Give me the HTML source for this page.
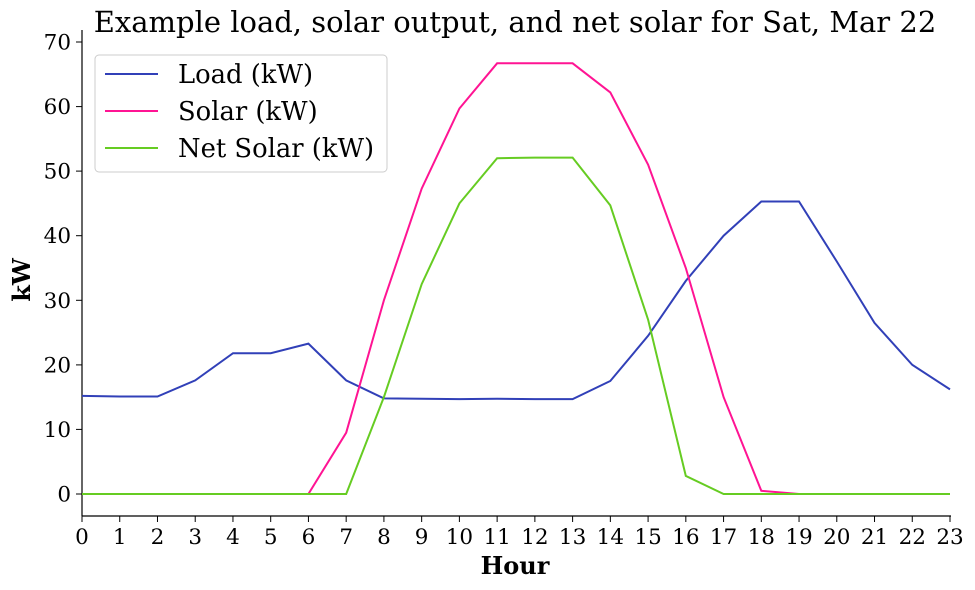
<!DOCTYPE html>
<html><head><meta charset="utf-8"><style>
html,body{margin:0;padding:0;background:#fff;}
svg{display:block;font-family:"DejaVu Serif","Liberation Serif",serif;}
</style></head><body>
<svg width="975" height="590" viewBox="0 0 975 590" xmlns="http://www.w3.org/2000/svg">
<rect width="975" height="590" fill="#fff"/>
<text x="515" y="32" font-size="29" text-anchor="middle">Example load, solar output, and net solar for Sat, Mar 22</text>
<g stroke="#000" stroke-width="1.2">
<line x1="82" y1="30" x2="82" y2="516"/>
<line x1="82" y1="516" x2="951" y2="516"/>
</g>
<g id="yt" font-size="21.5" text-anchor="end">
<line x1="76" y1="494" x2="82" y2="494" stroke="#000"/><text x="71" y="501.5">0</text>
<line x1="76" y1="429.4" x2="82" y2="429.4" stroke="#000"/><text x="71" y="436.9">10</text>
<line x1="76" y1="364.9" x2="82" y2="364.9" stroke="#000"/><text x="71" y="372.4">20</text>
<line x1="76" y1="300.3" x2="82" y2="300.3" stroke="#000"/><text x="71" y="307.8">30</text>
<line x1="76" y1="235.7" x2="82" y2="235.7" stroke="#000"/><text x="71" y="243.2">40</text>
<line x1="76" y1="171.1" x2="82" y2="171.1" stroke="#000"/><text x="71" y="178.6">50</text>
<line x1="76" y1="106.6" x2="82" y2="106.6" stroke="#000"/><text x="71" y="114.1">60</text>
<line x1="76" y1="42" x2="82" y2="42" stroke="#000"/><text x="71" y="49.5">70</text>
</g>
<g id="xt" font-size="21.5" text-anchor="middle"></g>
<text x="515" y="574" font-size="24" font-weight="bold" text-anchor="middle">Hour</text>
<text transform="translate(30,280) rotate(-90)" font-size="24" font-weight="bold" text-anchor="middle">kW</text>
<polyline id="load" fill="none" stroke="#3140b8" stroke-width="2"/>
<polyline id="solar" fill="none" stroke="#ff1493" stroke-width="2"/>
<polyline id="net" fill="none" stroke="#66cc22" stroke-width="2"/>
<rect x="95" y="55" width="292" height="117" rx="4" fill="#fff" stroke="#ccc" stroke-width="1"/>
<line x1="105" y1="74" x2="158" y2="74" stroke="#3140b8" stroke-width="2"/>
<text x="178" y="83" font-size="25.8">Load (kW)</text>
<line x1="105" y1="111" x2="158" y2="111" stroke="#ff1493" stroke-width="2"/>
<text x="178" y="120" font-size="25.8">Solar (kW)</text>
<line x1="105" y1="148" x2="158" y2="148" stroke="#66cc22" stroke-width="2"/>
<text x="178" y="157" font-size="25.8">Net Solar (kW)</text>
</svg>
<script>
var X=h=>82+h*868/23, Y=v=>494-v*6.457;
var load=[15.2,15.1,15.1,17.6,21.8,21.8,23.3,17.6,14.8,14.75,14.7,14.75,14.7,14.7,17.5,24.5,33,40,45.3,45.3,36,26.5,20,16.2];
var solar=[0,0,0,0,0,0,0,9.5,30,47.3,59.7,66.7,66.7,66.7,62.2,51,35,15,0.5,0,0,0,0,0];
var net=[0,0,0,0,0,0,0,0,15,32.5,45,52,52.1,52.1,44.7,27,2.8,0,0,0,0,0,0,0];
function pts(a){return a.map((v,i)=>X(i).toFixed(1)+","+Y(v).toFixed(1)).join(" ");}
document.getElementById("load").setAttribute("points",pts(load));
document.getElementById("solar").setAttribute("points",pts(solar));
document.getElementById("net").setAttribute("points",pts(net));
var g=document.getElementById("xt"),s="";
for(var i=0;i<24;i++){var x=X(i);s+='<line x1="'+x+'" y1="516" x2="'+x+'" y2="522" stroke="#000"/><text x="'+x+'" y="544">'+i+'</text>';}
g.innerHTML=s;
</script>
</body></html>
